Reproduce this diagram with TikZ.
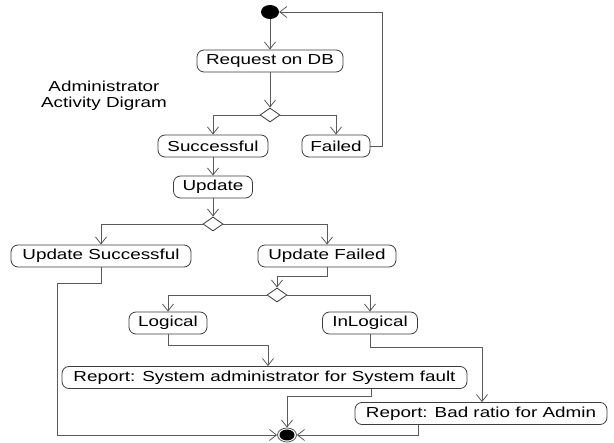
\documentclass[tikz,border=0pt]{standalone}
\usepackage{fontspec}
\setmainfont{Liberation Sans}[FakeStretch=1.3]
\usetikzlibrary{arrows.meta,shapes.geometric,calc}
\definecolor{flowgrey}{HTML}{5A5A5A}
\definecolor{edgegrey}{HTML}{3C3C3C}
\tikzset{
  activity/.style={draw=edgegrey, line width=0.8pt, rounded corners=7pt,
    minimum height=22pt, inner sep=0pt, font=\fontsize{14.5}{17}\selectfont},
  decision/.style={draw=edgegrey, line width=0.8pt, shape=diamond, inner sep=0pt,
    minimum width=20pt, minimum height=14pt, fill=white},
  flow/.style={draw=flowgrey, line width=0.8pt,
    -{Straight Barb[length=7pt,width=11pt]}},
}
\begin{document}
\begin{tikzpicture}[x=1pt, y=-1pt]
\useasboundingbox (0,0) rectangle (614,443);

% initial and final states
\node[ellipse, fill=black, minimum width=18pt, minimum height=14pt, inner sep=0pt] (start) at (270,12) {};
\node[ellipse, draw=flowgrey, fill=white, line width=0.8pt, minimum width=19pt, minimum height=14pt, inner sep=0pt] (finish) at (287,435) {};
\node[ellipse, fill=black, minimum width=15pt, minimum height=11pt, inner sep=0pt] (finishdot) at (finish) {};

% caption
\node[align=center, font=\fontsize{14.5}{16}\selectfont] (caption) at (104,96) {Administrator\\Activity Digram};

% activities
\node[activity, minimum width=146pt] (req) at (270,61) {Request on DB};
\node[decision] (d1) at (270,115) {};
\node[activity, minimum width=110pt] (succ) at (213,146) {Successful};
\node[activity, minimum width=68pt] (fail) at (336,146) {Failed};
\node[activity, minimum width=79pt] (upd) at (213,187) {Update};
\node[decision] (d2) at (213,224) {};
\node[activity, minimum width=180pt] (usucc) at (101,256) {Update Successful};
\node[activity, minimum width=138pt] (ufail) at (327,256) {Update Failed};
\node[decision] (d3) at (277,295) {};
\node[activity, minimum width=78pt] (logical) at (168,323) {Logical};
\node[activity, minimum width=95pt] (inlogical) at (370,323) {InLogical};
\node[activity, minimum width=405pt] (repsys) at (264.5,377.5) {Report: System administrator for System fault};
\node[activity, minimum width=252pt] (repbad) at (481,413.5) {Report: Bad ratio for Admin};

% routing points
\coordinate (loopR) at (382,146);
\coordinate (leftrail) at (57,283);

% flows
\draw[flow] (start) -- (req.north);
\draw[flow] (req.south) -- (d1.north);
\draw[flow] (d1.west) -| (succ.north);
\draw[flow] (d1.east) -| (fail.north);
\draw[flow] (fail.east) -- (loopR) |- (start.east);
\draw[flow] (succ.south) -- (upd.north);
\draw[flow] (upd.south) -- (d2.north);
\draw[flow] (d2.west) -| (usucc.north);
\draw[flow] (d2.east) -| (ufail.north);
\draw[flow] (ufail.south) -- ++(0,9) -| (d3.north);
\draw[flow] (d3.west) -| (logical.north);
\draw[flow] (d3.east) -| (inlogical.north);
\draw[flow] (logical.south) -- ++(0,11) -| ([xshift=3.5pt]repsys.north);
\draw[flow] (inlogical.south) -- ++(0,13) -| ([xshift=1pt]repbad.north);
\draw[flow] ([xshift=107pt]repsys.south) -- ++(0,8) -| (finish.north);
\draw[flow] ([xshift=-63pt]repbad.south) |- (finish.east);
\draw[flow] (usucc.south) |- (leftrail) |- (finish.west);
\end{tikzpicture}
\end{document}
